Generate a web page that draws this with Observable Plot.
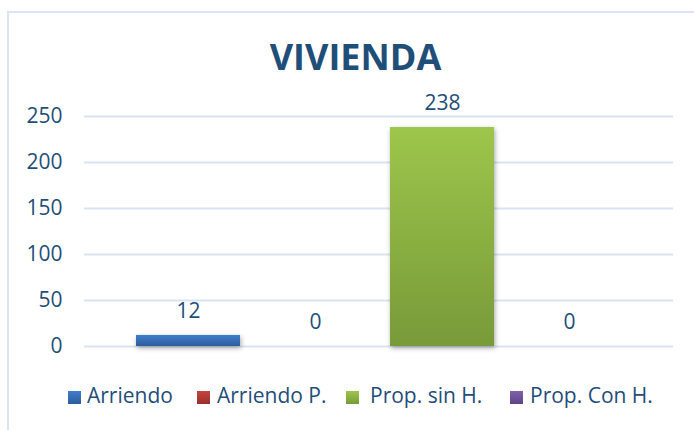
<!DOCTYPE html>
<html>
<head>
<meta charset="utf-8">
<script src="https://cdn.jsdelivr.net/npm/d3@7"></script>
<script src="https://cdn.jsdelivr.net/npm/@observablehq/plot@0.6"></script>
<style>
  html, body { margin: 0; padding: 0; background: #fff; }
  body { width: 694px; height: 430px; position: relative; overflow: hidden; font-family: "Open Sans", sans-serif; color: #1F4E79; }
  #frame { position: absolute; left: 7px; top: 11px; width: 720px; height: 440px; border: 2px solid #DAE5F4; box-sizing: border-box; }
  #title { position: absolute; left: 0; top: 39px; width: 711px; text-align: center; font-size: 36px; line-height: 36px; font-weight: 700; color: #1F4E79; }
  #chart { position: absolute; left: 0; top: 70px; }
  .lg-sq { position: absolute; top: 391px; width: 13px; height: 13px; }
  .lg-tx { position: absolute; top: 385px; font-size: 21px; line-height: 21px; white-space: nowrap; color: #1F4E79; }
</style>
</head>
<body>
<div id="frame"></div>
<div id="title">VIVIENDA</div>
<div id="chart"></div>
<div id="legend"></div>
<script>
const categories = ["Arriendo", "Arriendo P.", "Prop. sin H.", "Prop. Con H."];
const values = [12, 0, 238, 0];
const yTicks = [0, 50, 100, 150, 200, 250];
const gradTop = ["#3F7DCC", "#C8433F", "#9DC64B", "#8062AC"];
const gradBottom = ["#2E5C9C", "#9A2F2C", "#789A39", "#5E4485"];

const data = categories.map((c, i) => ({category: c, value: values[i]}));
const gradIds = categories.map((c, i) => `grad${i}`);

const svg = Plot.plot({
  width: 694,
  height: 290,
  marginTop: 46,
  marginBottom: 14,
  marginLeft: 84,
  marginRight: 21,
  style: {fontFamily: "Open Sans, sans-serif", fontSize: "21px", color: "#1F4E79", background: "transparent", overflow: "visible"},
  x: {domain: categories, range: [111.5, 645], padding: 0.184, axis: null},
  y: {domain: [0, 250], ticks: yTicks, tickSize: 0, tickPadding: 22, label: null},
  color: {type: "ordinal", domain: categories, range: gradIds.map(id => `url(#${id})`)},
  marks: [
    Plot.ruleY(yTicks, {stroke: "#D9E3F2", strokeWidth: 2}),
    Plot.barY(data, {x: "category", y: "value", fill: "category"}),
    Plot.text(data, {x: "category", y: "value", text: d => String(d.value), dy: -24, fontSize: 21, fill: "#1F4E79"})
  ]
});

// gradients and shadow definitions
const ns = "http://www.w3.org/2000/svg";
const defs = document.createElementNS(ns, "defs");
gradIds.forEach((id, i) => {
  const g = document.createElementNS(ns, "linearGradient");
  g.setAttribute("id", id);
  g.setAttribute("x1", "0"); g.setAttribute("y1", "0");
  g.setAttribute("x2", "0"); g.setAttribute("y2", "1");
  const s1 = document.createElementNS(ns, "stop");
  s1.setAttribute("offset", "0"); s1.setAttribute("stop-color", gradTop[i]);
  const s2 = document.createElementNS(ns, "stop");
  s2.setAttribute("offset", "1"); s2.setAttribute("stop-color", gradBottom[i]);
  g.appendChild(s1); g.appendChild(s2);
  defs.appendChild(g);
});
const f = document.createElementNS(ns, "filter");
f.setAttribute("id", "shadow");
f.setAttribute("x", "-20%"); f.setAttribute("y", "-20%");
f.setAttribute("width", "140%"); f.setAttribute("height", "160%");
const ds = document.createElementNS(ns, "feDropShadow");
ds.setAttribute("dx", "1"); ds.setAttribute("dy", "2");
ds.setAttribute("stdDeviation", "2.5");
ds.setAttribute("flood-color", "#000"); ds.setAttribute("flood-opacity", "0.35");
f.appendChild(ds);
defs.appendChild(f);
svg.insertBefore(defs, svg.firstChild);
const barG = svg.querySelector('g[aria-label="bar"]');
if (barG) barG.setAttribute("filter", "url(#shadow)");

document.getElementById("chart").appendChild(svg);

// legend
const sqX = [68, 197, 346, 510];
const txX = [87, 217, 370, 530];
const legend = document.getElementById("legend");
categories.forEach((c, i) => {
  const sq = document.createElement("div");
  sq.className = "lg-sq";
  sq.style.left = sqX[i] + "px";
  sq.style.background = `linear-gradient(${gradTop[i]}, ${gradBottom[i]})`;
  legend.appendChild(sq);
  const tx = document.createElement("div");
  tx.className = "lg-tx";
  tx.style.left = txX[i] + "px";
  tx.textContent = c;
  legend.appendChild(tx);
});
</script>
</body>
</html>
